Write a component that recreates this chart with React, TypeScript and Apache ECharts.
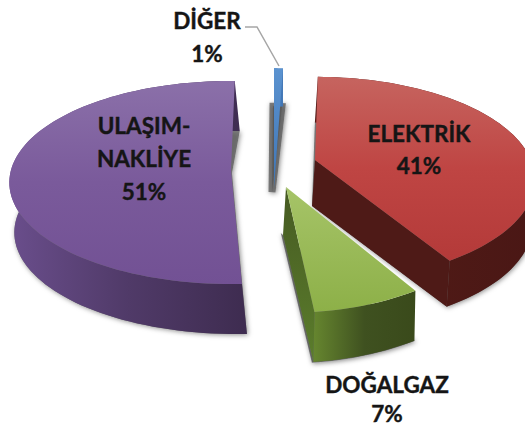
import React, { useEffect, useRef } from "react";
import * as echarts from "echarts";

const categories = ["ELEKTRİK", "DOĞALGAZ", "ULAŞIM-NAKLİYE", "DİĞER"];
const values = [41, 7, 51, 1];
const labelLines = [["ELEKTRİK", "41%"], ["DOĞALGAZ", "7%"], ["ULAŞIM-", "NAKLİYE", "51%"], ["DİĞER", "1%"]];

const START = 2;
const tilt = [-1.1, -1.2, 2.7, 1.6];
const shapes = [[216, 99, 0.19], [207, 102, 0.19], [220, 100, 0.123], [160, 134, 0.12]];
const apex = [[315, 160], [286, 187], [231, 170], [274, 188]];
const extrude = [[-3, 46], [-1, 50], [5, 50], [0, 38]];
const apexShift = [[-3, 46], [-3, 48], [1, 3], [-1, 4]];
const shadowShift = [0, -1, 0, -1];
const shadowWidth = [0, 1.5, 0, 7];
const visibleFace = [true, true, false, false];
const labelPos = [[419, 133], [387, 384], [144, 125], [207, 20]];
const lineGap = [32, 29, 33, 33];

const grad = (x: number, y: number, x2: number, y2: number, c: string[]) =>
  new echarts.graphic.LinearGradient(x, y, x2, y2, c.map((color, i) => ({ offset: i / (c.length - 1), color })));
const topFill = [
  ["#c6645f", "#bf4543", "#b43a39"],
  ["#a6c468", "#8db048"],
  ["#8b70a9", "#7a5a9b", "#725194"],
  ["#5b93d0", "#3f75b5"],
];
const wallFill = [
  ["#521b18", "#4f1a16", "#4a1715"],
  ["#66862f", "#3f5120", "#3a4a1b"],
  ["#6a4e8c", "#503a68", "#3e2c50"],
  ["#4a82c0", "#3f75b5"],
];
const faceFill = [
  ["#4e1a17", "#4e1a17"],
  ["#465a22", "#5b7d2c"],
  ["#3e2c50", "#3e2c50"],
  ["#2c5488", "#2c5488"],
];

function project(i: number, deg: number) {
  const [ax, ay] = apex[i];
  const [rx, ry, k] = shapes[i];
  const t = (deg * Math.PI) / 180;
  const u = Math.sin(t), v = Math.cos(t);
  const w = 1 + k * v;
  return [ax + (rx * u) / w, ay - (ry * v) / w];
}

function renderItem(params: any, api: any) {
  const i = params.dataIndex;
  const total = values.reduce((a, b) => a + b, 0);
  const before = values.slice(0, i).reduce((a, b) => a + b, 0);
  const a0 = START + tilt[i] + (before / total) * 360;
  const a1 = a0 + (api.value(0) / total) * 360;
  const A = apex[i];
  const [dx, dy] = extrude[i];
  const arc: number[][] = [];
  const n = Math.max(4, Math.ceil((a1 - a0) / 2));
  for (let k = 0; k <= n; k++) arc.push(project(i, a0 + ((a1 - a0) * k) / n));
  const top = [A, ...arc];
  const sh = (p: number[]) => [p[0] + dx, p[1] + dy];
  const shA = [A[0] + apexShift[i][0], A[1] + apexShift[i][1]];
  const children: any[] = [];
  children.push({
    type: "polygon",
    x: shadowShift[i],
    shape: { points: [shA, ...arc.map(sh)] },
    style: {
      fill: "rgba(85,85,85,0.75)",
      stroke: shadowWidth[i] ? "rgba(85,85,85,0.75)" : undefined,
      lineWidth: shadowWidth[i],
      shadowBlur: 5,
      shadowColor: "rgba(0,0,0,0.6)",
      shadowOffsetX: 1,
      shadowOffsetY: 1,
    },
  });
  children.push({
    type: "polygon",
    shape: { points: [...arc, ...arc.slice().reverse().map(sh)] },
    style: { fill: grad(0, 0, 1, 0, wallFill[i]) },
  });
  if (visibleFace[i]) {
    const last = arc[arc.length - 1];
    children.push({
      type: "polygon",
      shape: { points: [A, last, sh(last), shA] },
      style: { fill: grad(0, 0, 0, 1, faceFill[i]) },
    });
  }
  children.push({ type: "polygon", shape: { points: top }, style: { fill: grad(0, 0, 0, 1, topFill[i]) } });
  return { type: "group", children };
}

export default function App() {
  const ref = useRef<HTMLDivElement>(null);
  useEffect(() => {
    const chart = echarts.init(ref.current!, null, { renderer: "svg" });
    const texts: any[] = [];
    labelLines.forEach((lines, i) =>
      lines.forEach((line, j) =>
        texts.push({
          type: "text",
          z: 20,
          x: labelPos[i][0],
          y: labelPos[i][1] + j * lineGap[i],
          style: {
            text: line,
            fill: "#151515",
            stroke: "#151515",
            lineWidth: 0.4,
            font: 'bold 22.5px Lato, "Liberation Sans", sans-serif',
            align: "center",
            verticalAlign: "middle",
          },
        })
      )
    );
    chart.setOption({
      animation: false,
      backgroundColor: "#ffffff",
      series: [
        {
          type: "custom",
          coordinateSystem: "none",
          renderItem,
          data: values.map((v, i) => ({ name: categories[i], value: [v] })),
          silent: true,
        },
      ],
      graphic: [
        {
          type: "polyline",
          z: 10,
          shape: { points: [[245, 27], [257, 27], [279, 66]] },
          style: { stroke: "#a6a6a6", lineWidth: 1.5, fill: "none" },
        },
        ...texts,
      ],
    });
    return () => chart.dispose();
  }, []);
  return <div ref={ref} style={{ position: "fixed", left: 0, top: 0, width: 525, height: 427 }} />;
}
